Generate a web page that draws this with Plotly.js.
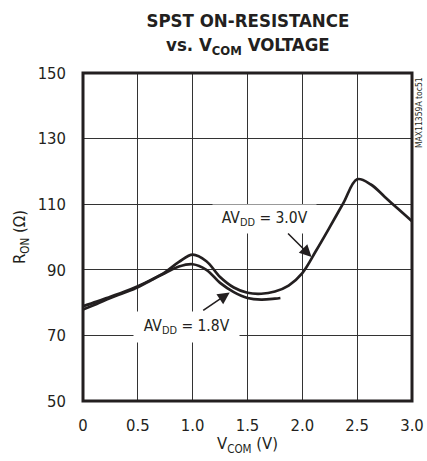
<!DOCTYPE html>
<html>
<head>
<meta charset="utf-8">
<script src="https://cdn.plot.ly/plotly-3.0.1.min.js"></script>
<style>
  html, body { margin: 0; padding: 0; background: #fff; }
  #chart { width: 427px; height: 461px; }
  #chart svg text { font-stretch: condensed !important; }
</style>
</head>
<body>
<div id="chart"></div>
<script>
// ---- data ----
const vcom30 = [0, 0.125, 0.25, 0.375, 0.5, 0.625, 0.75, 0.875, 1.0, 1.125, 1.25, 1.375, 1.5, 1.625, 1.75, 1.875, 2.0, 2.125, 2.25, 2.375, 2.5, 2.625, 2.75, 2.875, 3.0];
const ron30  = [78.9, 80.3, 81.8, 83.3, 85.0, 87.0, 89.3, 92.4, 94.6, 92.6, 87.8, 84.6, 83.0, 82.7, 83.4, 85.2, 89.0, 95.8, 103.0, 110.4, 117.6, 116.0, 112.3, 108.5, 104.8];

const vcom18 = [0, 0.125, 0.25, 0.375, 0.5, 0.625, 0.75, 0.875, 1.0, 1.125, 1.25, 1.375, 1.5, 1.625, 1.75, 1.8];
const ron18  = [77.9, 79.6, 81.4, 83.0, 84.7, 86.9, 89.0, 91.0, 91.7, 90.0, 86.0, 83.2, 81.4, 80.9, 81.2, 81.4];

const xTickVals = [0, 0.5, 1.0, 1.5, 2.0, 2.5, 3.0];
const xTickText = ['0', '0.5', '1.0', '1.5', '2.0', '2.5', '3.0'];
const yTickVals = [50, 70, 90, 110, 130, 150];
const yTickText = ['50', '70', '90', '110', '130', '150'];

const titleText = '<b>SPST ON-RESISTANCE<br>vs. V<sub>COM</sub> VOLTAGE</b>';
const label30 = 'AV<sub>DD</sub> = 3.0V';
const label18 = 'AV<sub>DD</sub> = 1.8V';

const FONT = "DejaVu Sans, sans-serif";
const INK = '#231f20';

const traces = [
  { x: vcom30, y: ron30, mode: 'lines', line: { color: INK, width: 2.7, shape: 'spline', smoothing: 1 }, hoverinfo: 'skip' },
  { x: vcom18, y: ron18, mode: 'lines', line: { color: INK, width: 2.7, shape: 'spline', smoothing: 1 }, hoverinfo: 'skip' }
];

const layout = {
  width: 427, height: 461,
  margin: { l: 83, r: 15, t: 73, b: 60 },
  paper_bgcolor: '#fff', plot_bgcolor: '#fff',
  showlegend: false,
  font: { family: FONT, color: INK, size: 16 },
  xaxis: {
    range: [0, 3], tickvals: xTickVals, ticktext: xTickText,
    showgrid: true, gridcolor: '#333', gridwidth: 1, zeroline: false,
    showline: false, ticks: '', ticklabelstandoff: 12,
    tickfont: { family: FONT, size: 16.5, color: INK },
    title: { text: 'V<sub>COM</sub> (V)', font: { family: FONT, size: 16.5, color: INK }, standoff: 3 },
    fixedrange: true
  },
  yaxis: {
    range: [50, 150], tickvals: yTickVals, ticktext: yTickText,
    showgrid: true, gridcolor: '#333', gridwidth: 1, zeroline: false,
    showline: false, ticks: '', ticklabelstandoff: 16,
    tickfont: { family: FONT, size: 16.5, color: INK },
    title: { text: 'R<sub>ON</sub> (Ω)', font: { family: FONT, size: 16.5, color: INK }, standoff: 4 },
    fixedrange: true
  },
  shapes: [
    { type: 'rect', xref: 'paper', yref: 'paper', x0: 0, x1: 1, y0: 0, y1: 1, line: { color: INK, width: 3 }, fillcolor: 'rgba(0,0,0,0)' }
  ],
  annotations: [
    { x: 0.5, y: 1.119, xref: 'paper', yref: 'paper', text: titleText, showarrow: false,
      font: { family: FONT, size: 18.5, color: INK }, xanchor: 'center', yanchor: 'middle' },
    { x: 1.655, y: 105.4, xref: 'x', yref: 'y', text: label30, showarrow: false,
      font: { family: FONT, size: 15.5, color: INK }, bgcolor: '#fff', borderpad: 4, xanchor: 'center', yanchor: 'middle' },
    { x: 0.942, y: 72.6, xref: 'x', yref: 'y', text: label18, showarrow: false,
      font: { family: FONT, size: 15.5, color: INK }, bgcolor: '#fff', borderpad: 5, xanchor: 'center', yanchor: 'middle' },
    { x: 2.084, y: 93.9, xref: 'x', yref: 'y', text: '', showarrow: true, arrowhead: 2, arrowsize: 1.5, arrowwidth: 1.6,
      arrowcolor: INK, ax: -25, ay: -25, standoff: 0, startstandoff: 0 },
    { x: 1.338, y: 83.1, xref: 'x', yref: 'y', text: '', showarrow: true, arrowhead: 2, arrowsize: 1.5, arrowwidth: 1.6,
      arrowcolor: INK, ax: -28, ay: 19, standoff: 0, startstandoff: 0 },
    { x: 1.021, y: 0.881, xref: 'paper', yref: 'paper', text: 'MAX11359A toc51', showarrow: false, textangle: -90,
      font: { family: FONT, size: 8.5, color: INK }, xanchor: 'center', yanchor: 'middle' }
  ]
};

Plotly.newPlot('chart', traces, layout, { staticPlot: true, displayModeBar: false });
</script>
</body>
</html>
